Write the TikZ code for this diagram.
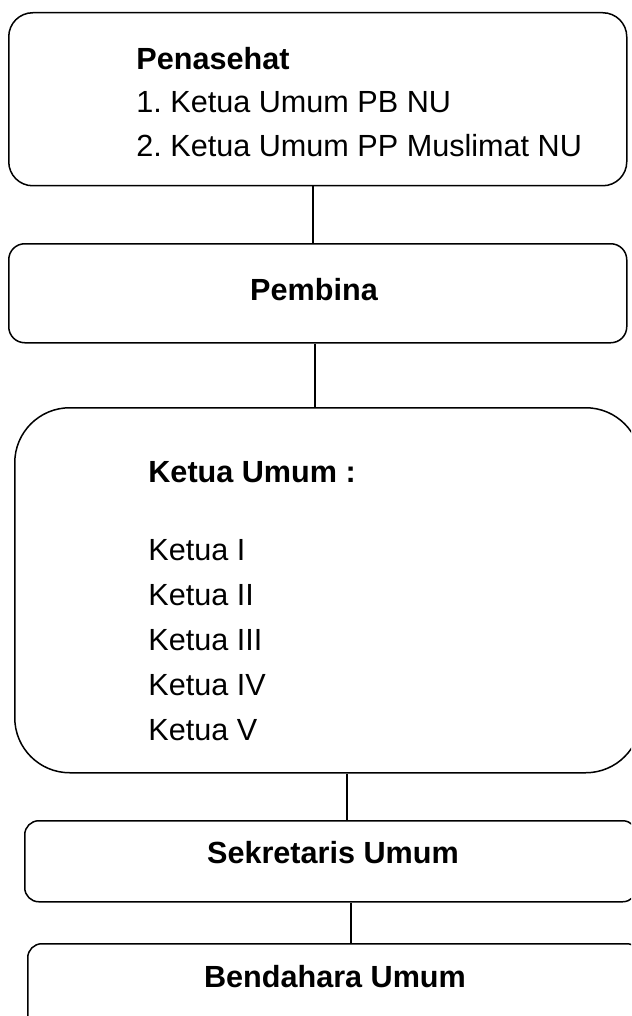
\documentclass[tikz,border=0pt]{standalone}
\usepackage{fontspec}
\setmainfont{Liberation Sans}
\usepackage{tikz}
\usetikzlibrary{positioning}
\frenchspacing

\begin{document}
\begin{tikzpicture}[x=0.5pt, y=-0.5pt,
    box/.style={rectangle, draw, line width=0.75pt, anchor=north west, inner sep=0pt},
    txt/.style={font=\fontsize{15.3}{18}\selectfont, inner sep=0pt, anchor=base west},
    head/.style={txt, font=\fontsize{15.3}{18}\selectfont\bfseries},
    link/.style={line width=0.75pt}
]
\useasboundingbox (0,0) rectangle (631,1016);
\clip (0,0) rectangle (631,1016);

% boxes
\node[box, rounded corners=12pt, minimum width=309pt, minimum height=86.5pt] (penasehat) at (8,12) {};
\node[box, rounded corners=8pt, minimum width=309pt, minimum height=49.5pt] (pembina) at (8,243) {};
\node[box, rounded corners=27.5pt, minimum width=313pt, minimum height=182.5pt] (ketua) at (14,407) {};
\node[box, rounded corners=7pt, minimum width=306pt, minimum height=40.5pt] (sekretaris) at (24,820) {};
\node[box, rounded corners=7pt, minimum width=306.5pt, minimum height=43.5pt] (bendahara) at (27,943) {};

% texts
\node[head] (penasehatT) at (136,70) {Penasehat};
\node[txt] (anggota1) at (136,113) {1. Ketua Umum PB NU};
\node[txt] (anggota2) at (136,157) {2. Ketua Umum PP Muslimat NU};
\node[head, anchor=base] (pembinaT) at (314,300) {Pembina};
\node[head] (ketuaT) at (148,482) {Ketua Umum :};
\node[txt] (ketua1) at (148,560) {Ketua I};
\node[txt] (ketua2) at (148,605) {Ketua II};
\node[txt] (ketua3) at (148,650) {Ketua III};
\node[txt] (ketua4) at (148,695) {Ketua IV};
\node[txt] (ketua5) at (148,740) {Ketua V};
\node[head, anchor=base] (sekretarisT) at (333,863) {Sekretaris Umum};
\node[head, anchor=base] (bendaharaT) at (335,987) {Bendahara Umum};

% connectors
\draw[link] ([xshift=-2.5pt]penasehat.south) -- ([xshift=-2.5pt]pembina.north);
\draw[link] ([xshift=-1.5pt]pembina.south) -- ([xshift=-6.5pt]ketua.north);
\draw[link] ([xshift=9.5pt]ketua.south) -- ([xshift=8pt]sekretaris.north);
\draw[link] ([xshift=10pt]sekretaris.south) -- ([xshift=8.25pt]bendahara.north);

\end{tikzpicture}
\end{document}
